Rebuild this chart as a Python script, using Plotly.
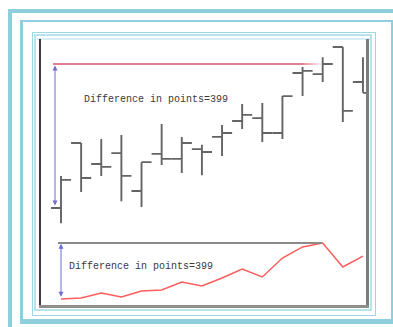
import plotly.graph_objects as go

# ---- data -------------------------------------------------------------
bar_index = list(range(1, 17))
open_ = [1000, 1180, 1122, 1152, 1047, 1150, 1136, 1163, 1197, 1241, 1249, 1208, 1374, 1371, 1446, 1349]
high = [1089, 1180, 1191, 1202, 1127, 1233, 1197, 1175, 1230, 1288, 1291, 1310, 1391, 1418, 1446, 1418]
low = [958, 1044, 1089, 1019, 1003, 1119, 1097, 1091, 1144, 1219, 1183, 1191, 1310, 1349, 1238, 1319]
close = [1078, 1083, 1114, 1089, 1127, 1136, 1180, 1155, 1208, 1258, 1208, 1310, 1380, 1399, 1269, 1319]

# running difference indicator (points above its starting level)
diff_points = [0, 7, 43, 14, 57, 64, 121, 93, 150, 214, 157, 292, 371, 399, 228, 306]

peak_bar = 14
price_diff = close[peak_bar - 1] - open_[0]
line_diff = max(diff_points) - min(diff_points)
label_top = f"Difference in points={price_diff}"
label_bottom = f"Difference in points={line_diff}"

# ---- geometry ---------------------------------------------------------
W, H = 393, 327
BAR_PX0, BAR_STEP = 61.0, 20.13          # pixel x of bar 1 and spacing


def x_at(px):
    return 1 + (px - BAR_PX0) / BAR_STEP


def px_x(px):
    return px / W


def px_y(py):
    return 1 - py / H


# upper panel: pixel rows 39..232, lower panel: 232..305
PTS_PER_PX = price_diff / 144.0
LINE_PTS_PER_PX = line_diff / 56.0


def price_at(py):
    return open_[0] + (208 - py) * PTS_PER_PX


def diff_at(py):
    return (299 - py) * LINE_PTS_PER_PX


fig = go.Figure()

bar_style = dict(line=dict(color="#646464", width=1.9))
fig.add_trace(go.Ohlc(
    x=bar_index, open=open_, high=high, low=low, close=close,
    increasing=bar_style, decreasing=bar_style, tickwidth=0.5,
    xaxis="x", yaxis="y", hoverinfo="skip",
))

fig.add_trace(go.Scatter(
    x=bar_index, y=diff_points, mode="lines",
    line=dict(color="#ff5c5c", width=1.5),
    xaxis="x", yaxis="y2", hoverinfo="skip",
))

shapes = []

# level line through the peak close, fading out as it reaches the bar
peak_price = close[peak_bar - 1]
x_start, x_solid, x_end = x_at(53), x_at(302), peak_bar + 0.05
shapes.append(dict(type="line", xref="x", yref="y", x0=x_start, x1=x_solid,
                   y0=peak_price, y1=peak_price,
                   line=dict(color="#d9566b", width=1.5)))
steps = 8
for k in range(steps):
    a = x_solid + (x_end - x_solid) * k / steps
    b = x_solid + (x_end - x_solid) * (k + 1) / steps
    shapes.append(dict(type="line", xref="x", yref="y", x0=a, x1=b,
                       y0=peak_price, y1=peak_price, opacity=1 - (k + 0.5) / steps,
                       line=dict(color="#d9566b", width=1.5)))

# level line at the indicator maximum
peak_diff = max(diff_points)
shapes.append(dict(type="line", xref="x", yref="y2", x0=x_at(58), x1=x_at(322),
                   y0=peak_diff, y1=peak_diff,
                   line=dict(color="#8a8a8a", width=2)))


def band(x0, y0, x1, y1, color):
    shapes.append(dict(type="rect", xref="paper", yref="paper", layer="above",
                       x0=px_x(x0), x1=px_x(x1), y0=px_y(y1), y1=px_y(y0),
                       fillcolor=color, line=dict(width=0)))


# decorative frames
c1 = "#8fcfdd"
band(8, 9, 393, 13, c1)
band(8, 9, 12, 327, c1)
band(20, 20, 393, 22, c1)
band(20, 20, 23, 324, c1)
band(391, 20, 393, 324, c1)
band(20, 319, 393, 324, c1)

c3 = "#9fd6e3"
band(32, 32, 376, 33, c3)
band(32, 32, 33, 316, c3)
band(375, 32, 376, 316, c3)
band(32, 315, 376, 316, c3)

c4 = "#b8e2ec"
band(34, 34, 372, 36, c4)
band(34, 34, 36, 311, c4)
band(370, 34, 372, 311, c4)
band(34, 309, 372, 311, c4)

# sunken plot border
band(37, 38, 370, 40, "#d6eef4")
band(39, 39, 41, 308, "#3e3e3e")
band(366, 39, 369, 308, "#7c7c7c")
band(39, 305, 369, 308, "#8e8e8e")

arrow_color = "#6d6dd4"
text_font = dict(family="Liberation Mono, Courier New, monospace", size=10, color="#3a3a3a")

annotations = [
    # double-headed arrow spanning the price difference
    dict(x=x_at(55), y=peak_price - 4, ax=x_at(55), ay=open_[0] + 3,
         xref="x", yref="y", axref="x", ayref="y", text="", showarrow=True,
         arrowhead=2, startarrowhead=2, arrowside="end+start",
         arrowsize=1, arrowwidth=1, arrowcolor=arrow_color),
    dict(x=x_at(61), y=peak_diff - 6, ax=x_at(61), ay=min(diff_points) + 6,
         xref="x", yref="y2", axref="x", ayref="y2", text="", showarrow=True,
         arrowhead=2, startarrowhead=2, arrowside="end+start",
         arrowsize=1, arrowwidth=1, arrowcolor=arrow_color),
    dict(x=x_at(82), y=price_at(100), xref="x", yref="y", text=label_top,
         showarrow=False, xanchor="left", yanchor="middle", font=text_font),
    dict(x=x_at(67), y=diff_at(266), xref="x", yref="y2", text=label_bottom,
         showarrow=False, xanchor="left", yanchor="middle", font=text_font),
]

fig.update_layout(
    width=W, height=H,
    margin=dict(l=0, r=0, t=0, b=0),
    paper_bgcolor="white", plot_bgcolor="white",
    showlegend=False,
    xaxis=dict(domain=[px_x(40), px_x(367)], range=[x_at(40), x_at(367)],
               visible=False, rangeslider=dict(visible=False), fixedrange=True),
    yaxis=dict(domain=[px_y(232), px_y(39)], range=[price_at(232), price_at(39)],
               visible=False, fixedrange=True),
    yaxis2=dict(domain=[px_y(305), px_y(232)], range=[diff_at(305), diff_at(232)],
                visible=False, fixedrange=True, anchor="x"),
    shapes=shapes,
    annotations=annotations,
)

fig.write_html("out.html", config=dict(displayModeBar=False))
